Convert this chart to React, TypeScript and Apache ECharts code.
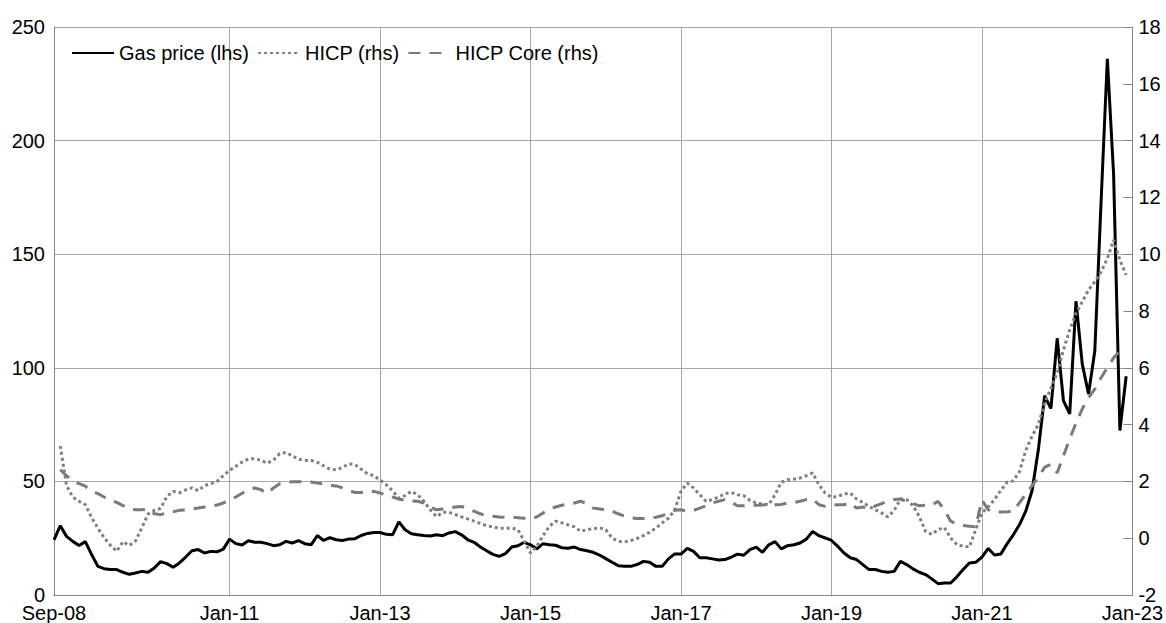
import React, { useEffect, useRef } from "react";
import * as echarts from "echarts";

const MONTH_NAMES = ["Jan", "Feb", "Mar", "Apr", "May", "Jun", "Jul", "Aug", "Sep", "Oct", "Nov", "Dec"];
// Monthly categories from Sep-08 to Jan-23
const categories: string[] = [];
for (let k = 0; k < 173; k++) {
  const m = (8 + k) % 12;
  const y = 2008 + Math.floor((8 + k) / 12);
  categories.push(`${MONTH_NAMES[m]}-${String(y % 100).padStart(2, "0")}`);
}

const xTickLabels = ["Sep-08", "Jan-11", "Jan-13", "Jan-15", "Jan-17", "Jan-19", "Jan-21", "Jan-23"];

const seriesNames = ["Gas price (lhs)", "HICP (rhs)", "HICP Core (rhs)"];

// Gas price, from Sep-08 to Dec-22 (lhs)
const gasPrice = [
  24.3, 30.5, 25.8, 23.6, 21.8, 23.5, 17.8, 12.6, 11.6, 11.2,
  11.2, 10, 9.1, 9.7, 10.4, 10, 11.9, 14.7, 13.8, 12.2,
  14.1, 16.7, 19.5, 20, 18.5, 19.2, 19, 20.2, 24.6, 22.6,
  22, 23.9, 23.2, 23.2, 22.6, 21.7, 22.1, 23.6, 22.9, 23.9,
  22.6, 22.1, 26.2, 24, 25.2, 24.3, 24, 24.6, 24.8, 26.2,
  27.1, 27.5, 27.5, 26.7, 26.5, 32.2, 28.7, 27, 26.5, 26.2,
  26, 26.5, 26.1, 27.3, 27.9, 26.5, 24.3, 23.2, 21.1, 19.5,
  17.9, 17, 18.2, 21.1, 21.7, 23.2, 22.1, 20.3, 22.6, 22.1,
  21.9, 20.8, 20.6, 21.1, 20, 19.5, 18.8, 17.6, 16, 14.4,
  12.9, 12.7, 12.6, 13.4, 14.8, 14.4, 12.6, 12.6, 15.9, 18.1,
  18, 20.5, 19.2, 16.4, 16.4, 15.9, 15.4, 15.6, 16.6, 18,
  17.5, 20, 21.1, 18.8, 22.1, 23.5, 20.3, 21.7, 22.1, 22.9,
  24.6, 28, 26.1, 25.1, 24, 21.4, 18.5, 16.4, 15.6, 13.4,
  11.2, 11.2, 10.4, 10, 10.4, 14.8, 13.4, 11.5, 10, 9,
  7.1, 5, 5.3, 5.3, 8, 11.2, 14.1, 14.4, 16.7, 20.5,
  17.6, 18, 22.5, 26.5, 31, 37, 46, 64, 87.7, 82,
  113, 85.5, 79.7, 129.3, 101.6, 88.5, 107.4, 173, 236, 185,
  72.4, 96.3,
];

// HICP, from Oct-08 to Dec-22 (rhs)
const hicp = [
  3.25, 1.85, 1.45, 1.3, 1.18, 0.72, 0.35, 0.02, -0.25, -0.46,
  -0.12, -0.26, -0.1, 0.36, 0.85, 0.98, 1.05, 1.47, 1.65, 1.6,
  1.7, 1.77, 1.67, 1.85, 1.92, 2.0, 2.2, 2.39, 2.53, 2.68,
  2.79, 2.8, 2.74, 2.64, 2.75, 2.98, 3.02, 2.9, 2.78, 2.74,
  2.74, 2.67, 2.55, 2.43, 2.41, 2.49, 2.62, 2.59, 2.43, 2.27,
  2.2, 2.05, 1.88, 1.67, 1.41, 1.5, 1.65, 1.53, 1.3, 1.0,
  0.76, 0.91, 0.91, 0.83, 0.75, 0.68, 0.6, 0.52, 0.44, 0.4,
  0.35, 0.35, 0.36, 0.3, -0.11, -0.52, -0.28, 0.09, 0.42, 0.6,
  0.54, 0.47, 0.4, 0.24, 0.3, 0.33, 0.37, 0.3, 0.01, -0.11,
  -0.13, -0.08, -0.01, 0.09, 0.21, 0.36, 0.54, 0.7, 1.0, 1.65,
  1.94, 1.77, 1.53, 1.3, 1.36, 1.45, 1.57, 1.61, 1.53, 1.5,
  1.33, 1.24, 1.2, 1.18, 1.53, 1.97, 2.06, 2.08, 2.12, 2.2,
  2.3, 1.88, 1.59, 1.44, 1.47, 1.56, 1.59, 1.38, 1.26, 1.12,
  1.0, 0.89, 0.75, 0.98, 1.38, 1.36, 1.15, 0.77, 0.24, 0.13,
  0.3, 0.38, 0.01, -0.23, -0.28, -0.31, 0.3, 0.89, 1.1, 1.36,
  1.68, 1.97, 2.02, 2.35, 3.1, 3.6, 4.0, 4.76, 5.28, 5.81,
  6.63, 7.33, 7.92, 8.33, 8.74, 9.03, 9.38, 9.85, 10.5, 9.79,
  9.27,
];

// HICP Core, from Oct-08 to Nov-22 (rhs)
const hicpCore = [
  2.41, 2.2, 2.0, 1.92, 1.83, 1.67, 1.57, 1.45, 1.33, 1.26,
  1.15, 1.03, 1.0, 1.0, 1.03, 0.86, 0.83, 0.89, 0.93, 0.98,
  1.0, 1.03, 1.06, 1.1, 1.12, 1.17, 1.24, 1.33, 1.45, 1.58,
  1.71, 1.77, 1.71, 1.57, 1.77, 1.92, 1.97, 1.99, 1.99, 1.99,
  1.98, 1.94, 1.91, 1.86, 1.84, 1.77, 1.68, 1.61, 1.61, 1.64,
  1.65, 1.59, 1.52, 1.45, 1.38, 1.33, 1.31, 1.3, 1.24, 1.1,
  1.0, 1.03, 1.06, 1.1, 1.12, 1.03, 0.95, 0.86, 0.79, 0.77,
  0.75, 0.74, 0.74, 0.72, 0.7, 0.68, 0.75, 0.89, 1.0, 1.1,
  1.16, 1.2, 1.24, 1.3, 1.22, 1.06, 1.03, 1.0, 0.95, 0.86,
  0.78, 0.72, 0.69, 0.69, 0.7, 0.74, 0.79, 0.89, 0.98, 1.0,
  0.95, 0.98, 1.06, 1.14, 1.24, 1.3, 1.36, 1.27, 1.14, 1.14,
  1.17, 1.16, 1.17, 1.18, 1.18, 1.19, 1.24, 1.26, 1.3, 1.36,
  1.38, 1.18, 1.12, 1.16, 1.18, 1.18, 1.24, 1.06, 1.1, 1.03,
  1.14, 1.22, 1.3, 1.36, 1.38, 1.29, 1.22, 1.14, 1.16, 1.16,
  1.3, 1.0, 0.6, 0.5, 0.45, 0.42, 0.4, 1.35, 1.0, 0.93,
  0.92, 0.93, 0.95, 1.25, 1.55, 1.85, 2.15, 2.5, 2.6, 2.3,
  2.9, 3.5, 4.05, 4.55, 4.95, 5.25, 5.65, 6.0, 6.35, 6.6,
];

const FONT = "'Liberation Sans', Arial, Helvetica, sans-serif";
const GRID_COLOR = "#a6a6a6";
const AXIS_COLOR = "#868686";
const isTick = (_i: number, v: string) => xTickLabels.includes(v);

export default function App() {
  const ref = useRef<HTMLDivElement>(null);

  useEffect(() => {
    document.body.style.margin = "0";
    const chart = echarts.init(ref.current!, null, { renderer: "svg" });
    chart.setOption({
      animation: false,
      backgroundColor: "#ffffff",
      textStyle: { fontFamily: FONT },
      grid: { left: 54, right: 32, top: 27, bottom: 27.5, containLabel: false },
      legend: {
        left: 66,
        top: 38,
        itemWidth: 42,
        itemHeight: 14,
        itemGap: 8,
        data: seriesNames,
        itemStyle: { opacity: 0 },
        textStyle: { fontSize: 20, color: "#000", fontFamily: FONT },
      },
      xAxis: {
        type: "category",
        data: categories,
        boundaryGap: false,
        axisLine: { show: true, lineStyle: { color: AXIS_COLOR, width: 1 } },
        axisTick: { show: false },
        axisLabel: {
          interval: isTick,
          showMinLabel: true,
          showMaxLabel: true,
          fontSize: 20,
          lineHeight: 18,
          color: "#000",
          margin: 9,
          fontFamily: FONT,
        },
        splitLine: {
          show: true,
          interval: isTick,
          lineStyle: { color: GRID_COLOR, width: 1 },
        },
      },
      yAxis: [
        {
          type: "value",
          position: "left",
          min: 0,
          max: 250,
          interval: 50,
          axisLine: { show: true, lineStyle: { color: AXIS_COLOR, width: 1 } },
          axisTick: { show: false },
          axisLabel: { fontSize: 20, lineHeight: 14, color: "#000", margin: 9, fontFamily: FONT },
          splitLine: { show: true, lineStyle: { color: GRID_COLOR, width: 1 } },
        },
        {
          type: "value",
          position: "right",
          min: -2,
          max: 18,
          interval: 2,
          axisLine: { show: true, lineStyle: { color: AXIS_COLOR, width: 1 } },
          axisTick: { show: true, inside: true, length: 9, lineStyle: { color: AXIS_COLOR } },
          axisLabel: { fontSize: 20, lineHeight: 14, color: "#000", margin: 6, fontFamily: FONT },
          splitLine: { show: false },
        },
      ],
      series: [
        {
          name: seriesNames[0],
          type: "line",
          yAxisIndex: 0,
          data: gasPrice,
          symbol: "none",
          lineStyle: { color: "#000000", width: 3 },
          itemStyle: { color: "#000000" },
          z: 3,
        },
        {
          name: seriesNames[1],
          type: "line",
          yAxisIndex: 1,
          data: [null, ...hicp],
          symbol: "none",
          lineStyle: { color: "#7f7f7f", width: 3, type: [3, 3] },
          itemStyle: { color: "#7f7f7f" },
          z: 4,
        },
        {
          name: seriesNames[2],
          type: "line",
          yAxisIndex: 1,
          data: [null, ...hicpCore],
          symbol: "none",
          lineStyle: { color: "#7a7a7a", width: 3, type: [12, 9] },
          itemStyle: { color: "#7a7a7a" },
          z: 5,
        },
      ],
    });
    return () => chart.dispose();
  }, []);

  return <div ref={ref} style={{ width: 1166, height: 623 }} />;
}
